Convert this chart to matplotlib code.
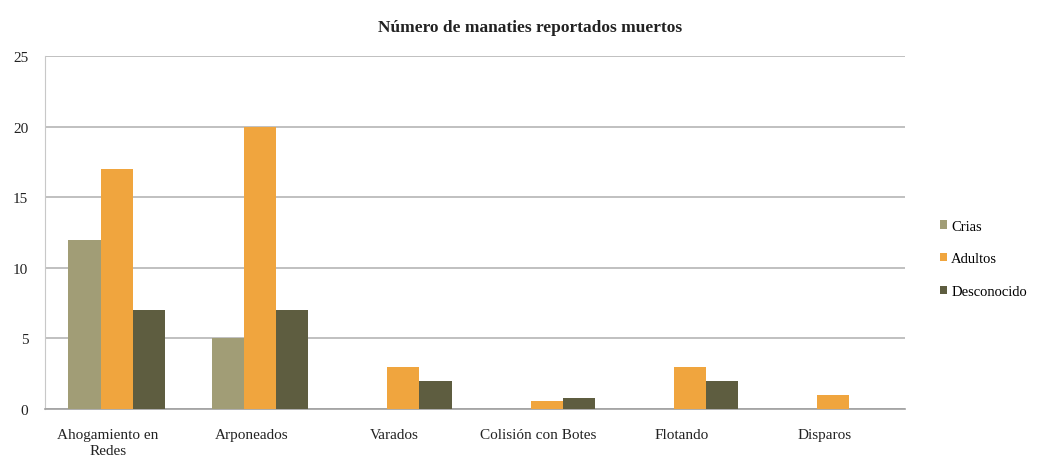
import matplotlib
matplotlib.use("Agg")
import matplotlib.pyplot as plt
import numpy as np

categories = ["Ahogamiento en\nRedes", "Arponeados", "Varados", "Colisión con Botes", "Flotando", "Disparos"]
crias = [12, 5, 0, 0, 0, 0]
adultos = [17, 20, 3, 0.6, 3, 1]
desconocido = [7, 7, 2, 0.8, 2, 0]
series_names = ["Crias", "Adultos", "Desconocido"]
colors = ["#a19d76", "#f0a53e", "#5e5d40"]

plt.rcParams['font.family'] = ['Liberation Serif', 'DejaVu Serif']

fig = plt.figure(figsize=(10.39, 4.6), dpi=100)
ax = fig.add_axes([0.0433, 0.1087, 0.8277, 0.7673])

x = np.arange(len(categories))
w = 0.225
for i, (vals, name, c) in enumerate(zip([crias, adultos, desconocido], series_names, colors)):
    ax.bar(x + (i - 1) * w, vals, width=w, color=c, label=name, zorder=3)

ax.set_xlim(-0.5, len(categories) - 0.5)
ax.set_ylim(0, 25)
ax.set_yticks([0, 5, 10, 15, 20, 25])
ax.yaxis.grid(True, color="#b5b5b5", linewidth=1.2, zorder=0)
ax.set_axisbelow(True)
for s in ["top", "right"]:
    ax.spines[s].set_visible(False)
ax.spines["left"].set_color("#c8c8c8")
ax.spines["bottom"].set_color("#a0a0a0")
ax.spines["bottom"].set_linewidth(1.2)
ax.tick_params(axis="both", length=0, labelsize=11, colors="#222222")
ax.tick_params(axis="y", pad=12)
ax.tick_params(axis="x", pad=14)
ax.set_xticks(x - 0.06)
ax.set_xticklabels(categories, linespacing=1.25)

fig.text(0.51, 0.93, "Número de manaties reportados muertos", ha="center", fontsize=12.5, fontweight="bold", color="#222222")

leg = ax.legend(loc="center left", bbox_to_anchor=(1.025, 0.425), frameon=False, fontsize=10.5,
                handlelength=0.5, handleheight=0.5, handletextpad=0.3, labelspacing=1.35)

fig.savefig("out.png", dpi=100)
